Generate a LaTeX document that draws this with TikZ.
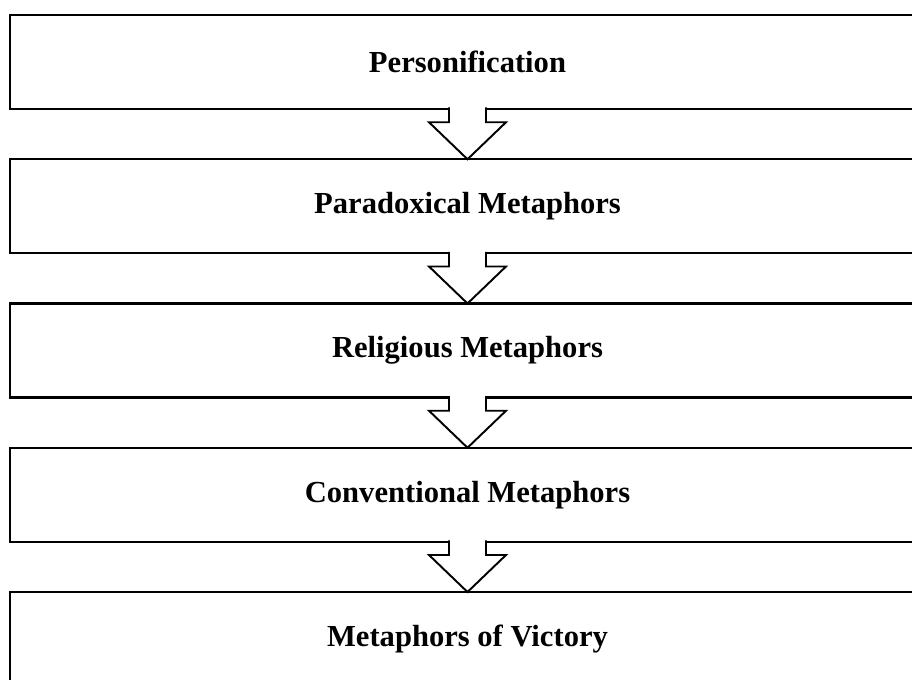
\documentclass[tikz,border=0pt]{standalone}
\usepackage{fontspec}
\setmainfont{Liberation Serif}
\usetikzlibrary{positioning,calc}

\tikzset{
  stage/.style={draw, line width=1.4pt, rectangle, outer sep=0pt,
    minimum width=18.3cm, minimum height=1.88cm,
    font=\fontsize{17.4}{20}\selectfont\bfseries},
  flow/.style={draw, fill=white, line width=1.1pt, line join=miter}
}

\begin{document}
\begin{tikzpicture}[node distance=1.005cm]
  \useasboundingbox (0,0) rectangle (18.24,-13.6);
  \clip (0,0) rectangle (18.24,-13.6);
  % the five stages
  \node[stage] (pers) at (9.35,-1.24) {Personification};
  \node[stage, below=of pers] (para) {Paradoxical Metaphors};
  \node[stage, below=of para] (reli) {Religious Metaphors};
  \node[stage, below=of reli] (conv) {Conventional Metaphors};
  \node[stage, below=of conv] (vict) {Metaphors of Victory};
  % hollow arrows between them
  \foreach \a/\b in {pers/para, para/reli, reli/conv, conv/vict}
    \draw[flow] ($(\a.south)+(-0.37,0.03)$) -- ($(\b.north)+(-0.37,0.74)$)
      -- ($(\b.north)+(-0.77,0.74)$) -- (\b.north)
      -- ($(\b.north)+(0.77,0.74)$) -- ($(\b.north)+(0.37,0.74)$)
      -- ($(\a.south)+(0.37,0.03)$);
\end{tikzpicture}
\end{document}
